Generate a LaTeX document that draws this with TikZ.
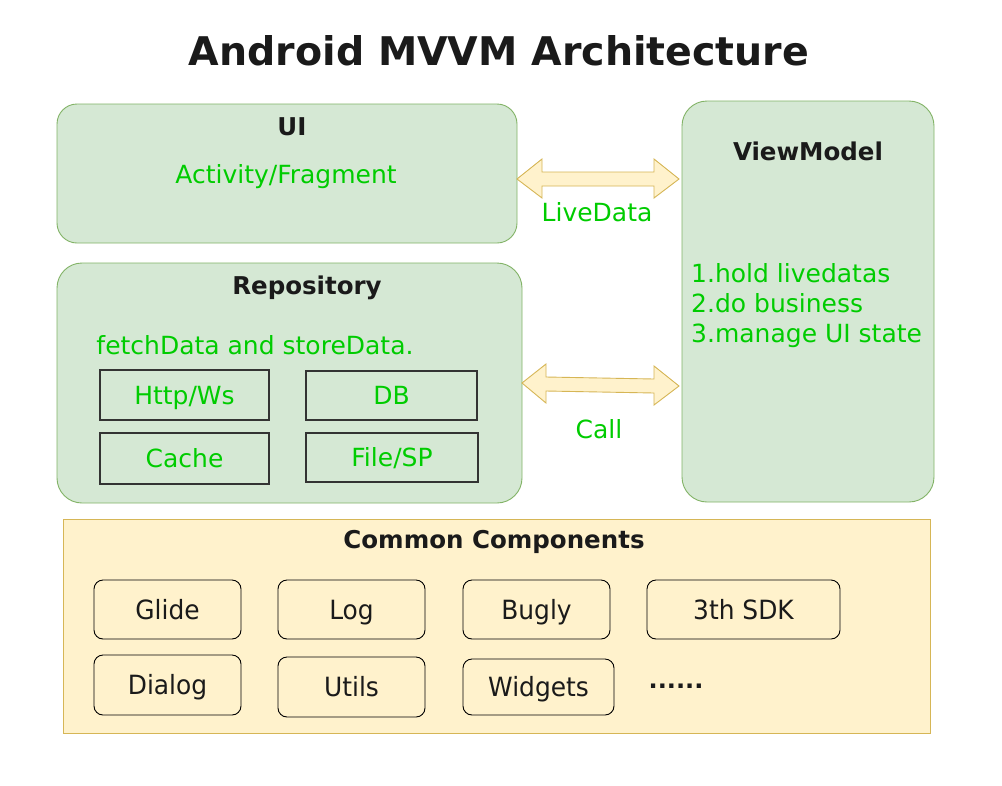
\documentclass[tikz,border=0pt]{standalone}
\usepackage{fontspec}
\setmainfont{DejaVu Sans}
\newfontfamily\condfont[FakeStretch=0.94]{DejaVu Sans}
\usetikzlibrary{positioning}
\definecolor{gfill}{HTML}{D5E8D4}
\definecolor{gdraw}{HTML}{82B366}
\definecolor{yfill}{HTML}{FFF2CC}
\definecolor{ydraw}{HTML}{D6B656}
\definecolor{gtext}{HTML}{00CC00}
\definecolor{dtext}{HTML}{1A1A1A}
\tikzset{
  gbox/.style={draw=gdraw, fill=gfill, line width=0.9pt},
  inbox/.style={draw=black!80, fill=gfill, line width=1.1pt, text height=18pt, text depth=0pt},
  cbox/.style={draw=black, fill=yfill, rounded corners=9pt, line width=0.9pt, text height=19pt, text depth=0pt},
  blockarrow/.style={draw=ydraw, fill=yfill, line width=0.9pt},
  gt/.style={text=gtext, font=\fontsize{25}{30}\selectfont},
  bt/.style={text=dtext, font=\bfseries\fontsize{24.5}{28}\selectfont},
  ct/.style={text=dtext, font=\condfont\fontsize{26.5}{30}\selectfont},
}
\begin{document}
\begin{tikzpicture}[x=1pt,y=-1pt]
\useasboundingbox (0,0) rectangle (1002,785);
\fill[white] (0,0) rectangle (1002,785);

% title
\node[text=dtext, font=\bfseries\fontsize{39.5}{44}\selectfont] (title) at (499,51) {Android MVVM Architecture};

% UI box
\draw[gbox, rounded corners=20pt] (57,104) rectangle (517,243);
\node[bt] (uiT) at (292,127) {UI};
\node[gt] (uiS) at (286,177) {Activity/Fragment};

% Repository box
\draw[gbox, rounded corners=25pt] (57,263) rectangle (522,503);
\node[bt] (repoT) at (307,288) {Repository};
\node[gt] (repoS) at (255,345) {fetchData and storeData.};
\node[inbox, minimum width=169pt, minimum height=50pt, gt] (http) at (184.5,395) {Http/Ws};
\node[inbox, minimum width=171pt, minimum height=49pt, gt] (db) at (391.5,395.5) {DB};
\node[inbox, minimum width=169pt, minimum height=51pt, gt] (cache) at (184.5,458.5) {Cache};
\node[inbox, minimum width=172pt, minimum height=49pt, gt] (file) at (392,457.5) {File/SP};

% ViewModel box
\draw[gbox, rounded corners=25pt] (682,101) rectangle (934,502);
\node[bt] (vmT) at (808,151) {ViewModel};
\node[gt, align=left, anchor=west, inner sep=0pt] (vmS) at (691,306)
  {1.hold livedatas\\2.do business\\3.manage UI state};

% LiveData arrow
\coordinate (a1L) at (517,179);
\coordinate (a1R) at (679,179);
\draw[blockarrow] (a1L) -- (542,159) -- (542,172) -- (654,172) -- (654,159)
  -- (a1R) -- (654,198) -- (654,186) -- (542,186) -- (542,198) -- cycle;
\node[gt] (ld) at (597,212) {LiveData};

% Call arrow
\coordinate (a2L) at (522,383);
\coordinate (a2R) at (679,386);
\draw[blockarrow] (a2L) -- (546,364) -- (546,377) -- (654,379) -- (654,366)
  -- (a2R) -- (654,405) -- (654,393) -- (546,391) -- (546,403) -- cycle;
\node[gt] (call) at (599,429) {Call};

% Common components
\draw[draw=ydraw, fill=yfill, line width=0.9pt] (63,519) rectangle (930,733);
\node[bt] (ccT) at (494,542) {Common Components};
\node[cbox, minimum width=147pt, minimum height=59pt, ct] (glide) at (167.5,609.5) {Glide};
\node[cbox, minimum width=147pt, minimum height=59pt, ct] (log) at (351.5,609.5) {Log};
\node[cbox, minimum width=147pt, minimum height=59pt, ct] (bugly) at (536.5,609.5) {Bugly};
\node[cbox, minimum width=193pt, minimum height=59pt, ct] (sdk) at (743.5,609.5) {3th SDK};
\node[cbox, minimum width=147pt, minimum height=60pt, ct] (dialog) at (167.5,685) {Dialog};
\node[cbox, minimum width=147pt, minimum height=60pt, ct] (utils) at (351.5,687) {Utils};
\node[cbox, minimum width=151pt, minimum height=56pt, ct] (widgets) at (538.5,687) {Widgets};
\node[text=dtext, font=\bfseries\fontsize{24}{28}\selectfont] (dots) at (676,686) {......};
\end{tikzpicture}
\end{document}
